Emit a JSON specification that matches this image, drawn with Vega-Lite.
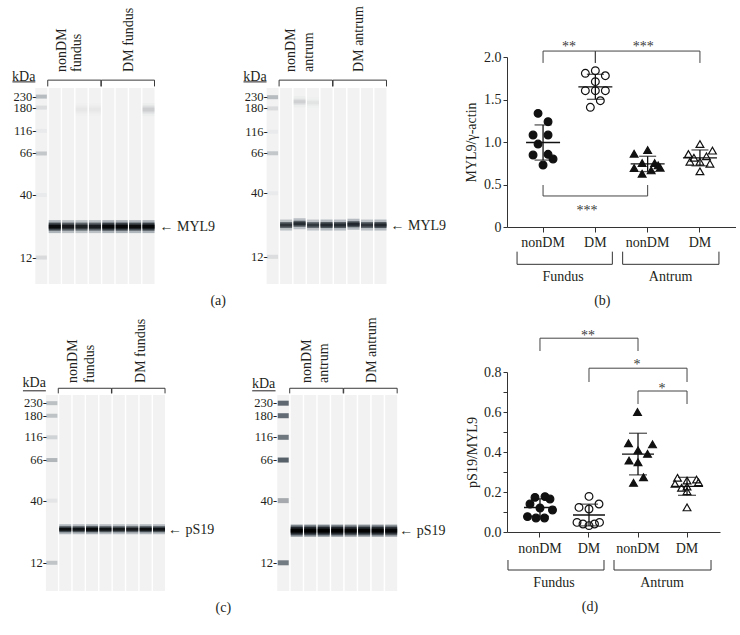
{
  "$schema": "https://vega.github.io/schema/vega-lite/v6.json",
  "padding": {"left": 0, "top": 6, "right": 0, "bottom": 0},
  "background": "white",
  "columns": 3,
  "bounds": "flush",
  "align": {"row": "each", "column": "none"},
  "spacing": {"row": 75, "column": 0},
  "config": {
    "view": {"stroke": null},
    "font": "Liberation Serif",
    "text": {"font": "Liberation Serif", "fontSize": 14, "fill": "#231f20"},
    "rule": {"color": "#333333", "strokeWidth": 1},
    "axis": {"labelFont": "Liberation Serif", "titleFont": "Liberation Serif", "labelFontSize": 14, "titleFontSize": 14, "titleFontWeight": "normal", "labelColor": "#231f20", "titleColor": "#231f20", "domainColor": "#333333", "tickColor": "#333333", "grid": false}
  },
  "datasets": {
    "lanes": [{"lane": 0}, {"lane": 1}, {"lane": 2}, {"lane": 3}, {"lane": 4}, {"lane": 5}, {"lane": 6}, {"lane": 7}, {"lane": 8}],
    "ladder": [
      {"blot": "A1", "kda": 230, "rf": 0.044, "i": 0.38}, {"blot": "A1", "kda": 180, "rf": 0.100, "i": 0.15}, {"blot": "A1", "kda": 116, "rf": 0.219, "i": 0.05}, {"blot": "A1", "kda": 66, "rf": 0.334, "i": 0.30}, {"blot": "A1", "kda": 40, "rf": 0.546, "i": 0.05}, {"blot": "A1", "kda": 12, "rf": 0.865, "i": 0.17},
      {"blot": "A2", "kda": 230, "rf": 0.047, "i": 0.38}, {"blot": "A2", "kda": 180, "rf": 0.104, "i": 0.16}, {"blot": "A2", "kda": 116, "rf": 0.223, "i": 0.05}, {"blot": "A2", "kda": 66, "rf": 0.333, "i": 0.30}, {"blot": "A2", "kda": 40, "rf": 0.537, "i": 0.05}, {"blot": "A2", "kda": 12, "rf": 0.861, "i": 0.15},
      {"blot": "C1", "kda": 230, "rf": 0.042, "i": 0.35}, {"blot": "C1", "kda": 180, "rf": 0.106, "i": 0.33}, {"blot": "C1", "kda": 116, "rf": 0.216, "i": 0.22}, {"blot": "C1", "kda": 66, "rf": 0.332, "i": 0.42}, {"blot": "C1", "kda": 40, "rf": 0.539, "i": 0.09}, {"blot": "C1", "kda": 12, "rf": 0.856, "i": 0.32},
      {"blot": "C2", "kda": 230, "rf": 0.042, "i": 0.82}, {"blot": "C2", "kda": 180, "rf": 0.106, "i": 0.80}, {"blot": "C2", "kda": 116, "rf": 0.216, "i": 0.72}, {"blot": "C2", "kda": 66, "rf": 0.332, "i": 0.86}, {"blot": "C2", "kda": 40, "rf": 0.539, "i": 0.42}, {"blot": "C2", "kda": 12, "rf": 0.856, "i": 0.70}
    ],
    "bands": [
      {"blot": "A1", "lane": 1, "rf": 0.707, "i": 0.95}, {"blot": "A1", "lane": 2, "rf": 0.707, "i": 0.78}, {"blot": "A1", "lane": 3, "rf": 0.707, "i": 0.72}, {"blot": "A1", "lane": 4, "rf": 0.707, "i": 0.76},
      {"blot": "A1", "lane": 5, "rf": 0.707, "i": 1.0}, {"blot": "A1", "lane": 6, "rf": 0.707, "i": 1.0}, {"blot": "A1", "lane": 7, "rf": 0.707, "i": 0.9}, {"blot": "A1", "lane": 8, "rf": 0.707, "i": 1.0},
      {"blot": "A1", "lane": 8, "rf": 0.11, "i": 0.08}, {"blot": "A1", "lane": 3, "rf": 0.11, "i": 0.02}, {"blot": "A1", "lane": 4, "rf": 0.11, "i": 0.02},
      {"blot": "A2", "lane": 1, "rf": 0.699, "i": 0.72}, {"blot": "A2", "lane": 2, "rf": 0.693, "i": 0.8}, {"blot": "A2", "lane": 3, "rf": 0.699, "i": 0.68}, {"blot": "A2", "lane": 4, "rf": 0.699, "i": 0.85},
      {"blot": "A2", "lane": 5, "rf": 0.699, "i": 0.8}, {"blot": "A2", "lane": 6, "rf": 0.695, "i": 0.85}, {"blot": "A2", "lane": 7, "rf": 0.699, "i": 0.72}, {"blot": "A2", "lane": 8, "rf": 0.699, "i": 0.85},
      {"blot": "A2", "lane": 2, "rf": 0.07, "i": 0.08}, {"blot": "A2", "lane": 3, "rf": 0.075, "i": 0.03},
      {"blot": "C1", "lane": 1, "rf": 0.685, "i": 0.9}, {"blot": "C1", "lane": 2, "rf": 0.685, "i": 0.85}, {"blot": "C1", "lane": 3, "rf": 0.685, "i": 1.0}, {"blot": "C1", "lane": 4, "rf": 0.685, "i": 0.85},
      {"blot": "C1", "lane": 5, "rf": 0.685, "i": 0.8}, {"blot": "C1", "lane": 6, "rf": 0.685, "i": 0.78}, {"blot": "C1", "lane": 7, "rf": 0.685, "i": 0.9}, {"blot": "C1", "lane": 8, "rf": 0.685, "i": 0.85},
      {"blot": "C2", "lane": 1, "rf": 0.692, "i": 1.0}, {"blot": "C2", "lane": 2, "rf": 0.692, "i": 1.0}, {"blot": "C2", "lane": 3, "rf": 0.692, "i": 1.0}, {"blot": "C2", "lane": 4, "rf": 0.692, "i": 1.0},
      {"blot": "C2", "lane": 5, "rf": 0.692, "i": 0.9}, {"blot": "C2", "lane": 6, "rf": 0.692, "i": 0.92}, {"blot": "C2", "lane": 7, "rf": 0.692, "i": 0.95}, {"blot": "C2", "lane": 8, "rf": 0.692, "i": 0.88}
    ],
    "groups": [
      {"blot": "A1", "grp": "nonDM", "first": 1, "last": 4, "lines": ["nonDM", "fundus"]}, {"blot": "A1", "grp": "DM", "first": 5, "last": 8, "lines": ["DM fundus"]},
      {"blot": "A2", "grp": "nonDM", "first": 1, "last": 4, "lines": ["nonDM", "antrum"]}, {"blot": "A2", "grp": "DM", "first": 5, "last": 8, "lines": ["DM antrum"]},
      {"blot": "C1", "grp": "nonDM", "first": 1, "last": 4, "lines": ["nonDM", "fundus"]}, {"blot": "C1", "grp": "DM", "first": 5, "last": 8, "lines": ["DM fundus"]},
      {"blot": "C2", "grp": "nonDM", "first": 1, "last": 4, "lines": ["nonDM", "antrum"]}, {"blot": "C2", "grp": "DM", "first": 5, "last": 8, "lines": ["DM antrum"]}
    ],
    "targets": [
      {"blot": "A1", "protein": "MYL9", "rf": 0.708}, {"blot": "A2", "protein": "MYL9", "rf": 0.705},
      {"blot": "C1", "protein": "pS19", "rf": 0.69}, {"blot": "C2", "protein": "pS19", "rf": 0.692}
    ],
    "myl9": [
      {"g": "F-nonDM", "v": 1.337, "jit": -1}, {"g": "F-nonDM", "v": 1.239, "jit": 1}, {"g": "F-nonDM", "v": 1.082, "jit": -2}, {"g": "F-nonDM", "v": 1.082, "jit": 1}, {"g": "F-nonDM", "v": 0.976, "jit": -1}, {"g": "F-nonDM", "v": 0.847, "jit": -2}, {"g": "F-nonDM", "v": 0.855, "jit": 1}, {"g": "F-nonDM", "v": 0.80, "jit": 2}, {"g": "F-nonDM", "v": 0.729, "jit": 0},
      {"g": "F-DM", "v": 1.808, "jit": -2}, {"g": "F-DM", "v": 1.839, "jit": 0}, {"g": "F-DM", "v": 1.78, "jit": 2}, {"g": "F-DM", "v": 1.71, "jit": 0}, {"g": "F-DM", "v": 1.604, "jit": -2}, {"g": "F-DM", "v": 1.604, "jit": 0}, {"g": "F-DM", "v": 1.604, "jit": 2}, {"g": "F-DM", "v": 1.486, "jit": 1}, {"g": "F-DM", "v": 1.408, "jit": -1},
      {"g": "A-nonDM", "v": 0.862, "jit": -2.7}, {"g": "A-nonDM", "v": 0.905, "jit": 0}, {"g": "A-nonDM", "v": 0.752, "jit": -1.1}, {"g": "A-nonDM", "v": 0.752, "jit": 1.4}, {"g": "A-nonDM", "v": 0.725, "jit": 2.1}, {"g": "A-nonDM", "v": 0.693, "jit": -2.7}, {"g": "A-nonDM", "v": 0.666, "jit": 0.7}, {"g": "A-nonDM", "v": 0.697, "jit": 2.5}, {"g": "A-nonDM", "v": 0.627, "jit": -1.1},
      {"g": "A-DM", "v": 0.976, "jit": 0}, {"g": "A-DM", "v": 0.859, "jit": -2.3}, {"g": "A-DM", "v": 0.898, "jit": 2.5}, {"g": "A-DM", "v": 0.815, "jit": -1.2}, {"g": "A-DM", "v": 0.832, "jit": 1.3}, {"g": "A-DM", "v": 0.768, "jit": -2}, {"g": "A-DM", "v": 0.768, "jit": 0}, {"g": "A-DM", "v": 0.745, "jit": 2}, {"g": "A-DM", "v": 0.655, "jit": 0}
    ],
    "ps19": [
      {"g": "F-nonDM", "v": 0.173, "jit": -1}, {"g": "F-nonDM", "v": 0.177, "jit": 1}, {"g": "F-nonDM", "v": 0.165, "jit": 2}, {"g": "F-nonDM", "v": 0.140, "jit": -2}, {"g": "F-nonDM", "v": 0.120, "jit": 0}, {"g": "F-nonDM", "v": 0.110, "jit": 2.5}, {"g": "F-nonDM", "v": 0.077, "jit": -2.5}, {"g": "F-nonDM", "v": 0.070, "jit": -0.8}, {"g": "F-nonDM", "v": 0.070, "jit": 0.9},
      {"g": "F-DM", "v": 0.178, "jit": 0}, {"g": "F-DM", "v": 0.123, "jit": -2}, {"g": "F-DM", "v": 0.115, "jit": 0}, {"g": "F-DM", "v": 0.140, "jit": 2}, {"g": "F-DM", "v": 0.048, "jit": -2.4}, {"g": "F-DM", "v": 0.040, "jit": -1.2}, {"g": "F-DM", "v": 0.032, "jit": 0}, {"g": "F-DM", "v": 0.040, "jit": 1.1}, {"g": "F-DM", "v": 0.048, "jit": 2.1},
      {"g": "A-nonDM", "v": 0.600, "jit": -0.1}, {"g": "A-nonDM", "v": 0.444, "jit": -1.9}, {"g": "A-nonDM", "v": 0.438, "jit": 2.9}, {"g": "A-nonDM", "v": 0.408, "jit": 0}, {"g": "A-nonDM", "v": 0.391, "jit": 1.9}, {"g": "A-nonDM", "v": 0.357, "jit": -1.8}, {"g": "A-nonDM", "v": 0.349, "jit": 0}, {"g": "A-nonDM", "v": 0.274, "jit": 1.1}, {"g": "A-nonDM", "v": 0.246, "jit": -0.9},
      {"g": "A-DM", "v": 0.271, "jit": -1.9}, {"g": "A-DM", "v": 0.262, "jit": 1.9}, {"g": "A-DM", "v": 0.257, "jit": 0}, {"g": "A-DM", "v": 0.241, "jit": -2.4}, {"g": "A-DM", "v": 0.221, "jit": -1.1}, {"g": "A-DM", "v": 0.249, "jit": 2.3}, {"g": "A-DM", "v": 0.227, "jit": 0}, {"g": "A-DM", "v": 0.204, "jit": 0}, {"g": "A-DM", "v": 0.123, "jit": 0}
    ],
    "sig": [
      {"panel": "b", "a": "F-nonDM", "b": "F-DM", "lvl": 2.07, "tip": 1.93},
      {"panel": "b", "a": "F-DM", "b": "A-DM", "lvl": 2.07, "tip": 1.93},
      {"panel": "b", "a": "F-nonDM", "b": "A-nonDM", "lvl": 0.365, "tip": 0.494},
      {"panel": "d", "a": "F-nonDM", "b": "A-nonDM", "lvl": 0.969, "tip": 0.905},
      {"panel": "d", "a": "F-DM", "b": "A-DM", "lvl": 0.819, "tip": 0.75},
      {"panel": "d", "a": "A-nonDM", "b": "A-DM", "lvl": 0.705, "tip": 0.64}
    ]
  },
  "concat": [
    {
      "width": 231, "height": 240,
      "layer": [
        {"data": {"name": "lanes"}, "mark": {"type": "bar", "orient": "vertical", "width": 12, "color": "#f2f2f2"},
         "encoding": {"x": {"field": "lane", "type": "quantitative", "scale": {"domain": [-2.714, 13.786], "nice": false, "zero": false}, "axis": null},
                      "y": {"datum": 0, "type": "quantitative", "scale": {"domain": [-0.158, 1.066], "nice": false, "zero": false, "reverse": true}, "axis": null},
                      "y2": {"datum": 1}}},
        {"data": {"name": "ladder"}, "transform": [{"filter": "datum.blot === 'A1'"}], "mark": {"type": "tick", "orient": "horizontal", "size": 11, "thickness": 4, "color": "#56636e"},
         "encoding": {"x": {"datum": 0, "type": "quantitative"}, "y": {"field": "rf", "type": "quantitative"}, "opacity": {"field": "i", "type": "quantitative", "scale": {"domain": [0, 1], "range": [0, 1]}, "legend": null}}},
        {"data": {"name": "bands"}, "transform": [{"filter": "datum.blot === 'A1'"}], "mark": {"type": "tick", "orient": "horizontal", "size": 12, "thickness": 13, "color": "#a9b0b6"},
         "encoding": {"x": {"field": "lane", "type": "quantitative"}, "y": {"field": "rf", "type": "quantitative"}, "opacity": {"field": "i", "type": "quantitative", "legend": null}}},
        {"data": {"name": "bands"}, "transform": [{"filter": "datum.blot === 'A1'"}], "mark": {"type": "tick", "orient": "horizontal", "size": 12, "thickness": 8, "color": "#3a4248"},
         "encoding": {"x": {"field": "lane", "type": "quantitative"}, "y": {"field": "rf", "type": "quantitative"}, "opacity": {"field": "i", "type": "quantitative", "legend": null}}},
        {"data": {"name": "bands"}, "transform": [{"filter": "datum.blot === 'A1'"}], "mark": {"type": "tick", "orient": "horizontal", "size": 12, "thickness": 4, "color": "#050708"},
         "encoding": {"x": {"field": "lane", "type": "quantitative"}, "y": {"field": "rf", "type": "quantitative"}, "opacity": {"field": "i", "type": "quantitative", "legend": null}}},
        {"data": {"name": "ladder"}, "transform": [{"filter": "datum.blot === 'A1'"}, {"calculate": "datum.kda + '-'", "as": "lab"}], "mark": {"type": "text", "align": "right", "baseline": "middle", "dx": -5, "fontSize": 12.5},
         "encoding": {"x": {"datum": 0, "type": "quantitative"}, "y": {"field": "rf", "type": "quantitative"}, "text": {"field": "lab"}}},
        {"data": {"values": [{}]}, "mark": {"type": "text", "text": "kDa", "align": "right", "baseline": "middle", "dx": -6},
         "encoding": {"x": {"datum": 0, "type": "quantitative"}, "y": {"datum": -0.056, "type": "quantitative"}}},
        {"data": {"values": [{}]}, "mark": {"type": "rule", "color": "#231f20"},
         "encoding": {"x": {"datum": -2.16, "type": "quantitative"}, "x2": {"datum": -0.45}, "y": {"datum": -0.031, "type": "quantitative"}}},
        {"data": {"name": "groups"}, "transform": [{"filter": "datum.blot === 'A1'"}], "mark": {"type": "rule", "color": "#3a3a3a", "xOffset": -7, "x2Offset": 6},
         "encoding": {"x": {"field": "first", "type": "quantitative"}, "x2": {"field": "last"}, "y": {"datum": -0.04, "type": "quantitative"}}},
        {"data": {"name": "groups"}, "transform": [{"filter": "datum.blot === 'A1'"}], "mark": {"type": "rule", "color": "#3a3a3a", "xOffset": -7},
         "encoding": {"x": {"field": "first", "type": "quantitative"}, "y": {"datum": -0.04, "type": "quantitative"}, "y2": {"datum": -0.008}}},
        {"data": {"name": "groups"}, "transform": [{"filter": "datum.blot === 'A1'"}], "mark": {"type": "rule", "color": "#3a3a3a", "xOffset": 6},
         "encoding": {"x": {"field": "last", "type": "quantitative"}, "y": {"datum": -0.04, "type": "quantitative"}, "y2": {"datum": -0.008}}},
        {"data": {"name": "groups"}, "transform": [{"filter": "datum.blot === 'A1' && datum.grp === 'nonDM'"}, {"calculate": "(datum.first + datum.last) / 2", "as": "mid"}], "mark": {"type": "text", "angle": 270, "align": "left", "baseline": "middle", "lineHeight": 15, "dy": -13},
         "encoding": {"x": {"field": "mid", "type": "quantitative"}, "y": {"datum": -0.082, "type": "quantitative"}, "text": {"field": "lines"}}},
        {"data": {"name": "groups"}, "transform": [{"filter": "datum.blot === 'A1' && datum.grp === 'DM'"}, {"calculate": "(datum.first + datum.last) / 2", "as": "mid"}], "mark": {"type": "text", "angle": 270, "align": "left", "baseline": "middle", "dy": 1},
         "encoding": {"x": {"field": "mid", "type": "quantitative"}, "y": {"datum": -0.082, "type": "quantitative"}, "text": {"field": "lines"}}},
        {"data": {"name": "targets"}, "transform": [{"filter": "datum.blot === 'A1'"}, {"calculate": "'\u2190 ' + datum.protein", "as": "lab"}], "mark": {"type": "text", "align": "left", "baseline": "middle", "dx": 11},
         "encoding": {"x": {"datum": 8, "type": "quantitative"}, "y": {"field": "rf", "type": "quantitative"}, "text": {"field": "lab"}}},
        {"data": {"values": [{}]}, "mark": {"type": "text", "text": "(a)", "baseline": "middle"},
         "encoding": {"x": {"datum": 13.2, "type": "quantitative"}, "y": {"datum": 1.087, "type": "quantitative"}}}
      ]
    },
    {
      "width": 272, "height": 240,
      "layer": [
        {"data": {"name": "lanes"}, "mark": {"type": "bar", "orient": "vertical", "width": 12, "color": "#f2f2f2"},
         "encoding": {"x": {"field": "lane", "type": "quantitative", "scale": {"domain": [-2.714, 16.714], "nice": false, "zero": false}, "axis": null},
                      "y": {"datum": 0, "type": "quantitative", "scale": {"domain": [-0.158, 1.066], "nice": false, "zero": false, "reverse": true}, "axis": null},
                      "y2": {"datum": 1}}},
        {"data": {"name": "ladder"}, "transform": [{"filter": "datum.blot === 'A2'"}], "mark": {"type": "tick", "orient": "horizontal", "size": 11, "thickness": 4, "color": "#56636e"},
         "encoding": {"x": {"datum": 0, "type": "quantitative"}, "y": {"field": "rf", "type": "quantitative"}, "opacity": {"field": "i", "type": "quantitative", "scale": {"domain": [0, 1], "range": [0, 1]}, "legend": null}}},
        {"data": {"name": "bands"}, "transform": [{"filter": "datum.blot === 'A2'"}], "mark": {"type": "tick", "orient": "horizontal", "size": 12, "thickness": 11, "color": "#a9b0b6"},
         "encoding": {"x": {"field": "lane", "type": "quantitative"}, "y": {"field": "rf", "type": "quantitative"}, "opacity": {"field": "i", "type": "quantitative", "legend": null}}},
        {"data": {"name": "bands"}, "transform": [{"filter": "datum.blot === 'A2'"}], "mark": {"type": "tick", "orient": "horizontal", "size": 12, "thickness": 6, "color": "#3a4248"},
         "encoding": {"x": {"field": "lane", "type": "quantitative"}, "y": {"field": "rf", "type": "quantitative"}, "opacity": {"field": "i", "type": "quantitative", "legend": null}}},
        {"data": {"name": "bands"}, "transform": [{"filter": "datum.blot === 'A2'"}], "mark": {"type": "tick", "orient": "horizontal", "size": 12, "thickness": 3, "color": "#1a2026"},
         "encoding": {"x": {"field": "lane", "type": "quantitative"}, "y": {"field": "rf", "type": "quantitative"}, "opacity": {"field": "i", "type": "quantitative", "legend": null}}},
        {"data": {"name": "ladder"}, "transform": [{"filter": "datum.blot === 'A2'"}, {"calculate": "datum.kda + '-'", "as": "lab"}], "mark": {"type": "text", "align": "right", "baseline": "middle", "dx": -5, "fontSize": 12.5},
         "encoding": {"x": {"datum": 0, "type": "quantitative"}, "y": {"field": "rf", "type": "quantitative"}, "text": {"field": "lab"}}},
        {"data": {"values": [{}]}, "mark": {"type": "text", "text": "kDa", "align": "right", "baseline": "middle", "dx": -6},
         "encoding": {"x": {"datum": 0, "type": "quantitative"}, "y": {"datum": -0.056, "type": "quantitative"}}},
        {"data": {"values": [{}]}, "mark": {"type": "rule", "color": "#231f20"},
         "encoding": {"x": {"datum": -2.16, "type": "quantitative"}, "x2": {"datum": -0.45}, "y": {"datum": -0.031, "type": "quantitative"}}},
        {"data": {"name": "groups"}, "transform": [{"filter": "datum.blot === 'A2'"}], "mark": {"type": "rule", "color": "#3a3a3a", "xOffset": -7, "x2Offset": 6},
         "encoding": {"x": {"field": "first", "type": "quantitative"}, "x2": {"field": "last"}, "y": {"datum": -0.04, "type": "quantitative"}}},
        {"data": {"name": "groups"}, "transform": [{"filter": "datum.blot === 'A2'"}], "mark": {"type": "rule", "color": "#3a3a3a", "xOffset": -7},
         "encoding": {"x": {"field": "first", "type": "quantitative"}, "y": {"datum": -0.04, "type": "quantitative"}, "y2": {"datum": -0.008}}},
        {"data": {"name": "groups"}, "transform": [{"filter": "datum.blot === 'A2'"}], "mark": {"type": "rule", "color": "#3a3a3a", "xOffset": 6},
         "encoding": {"x": {"field": "last", "type": "quantitative"}, "y": {"datum": -0.04, "type": "quantitative"}, "y2": {"datum": -0.008}}},
        {"data": {"name": "groups"}, "transform": [{"filter": "datum.blot === 'A2' && datum.grp === 'nonDM'"}, {"calculate": "(datum.first + datum.last) / 2", "as": "mid"}], "mark": {"type": "text", "angle": 270, "align": "left", "baseline": "middle", "lineHeight": 18, "dy": -15},
         "encoding": {"x": {"field": "mid", "type": "quantitative"}, "y": {"datum": -0.082, "type": "quantitative"}, "text": {"field": "lines"}}},
        {"data": {"name": "groups"}, "transform": [{"filter": "datum.blot === 'A2' && datum.grp === 'DM'"}, {"calculate": "(datum.first + datum.last) / 2", "as": "mid"}], "mark": {"type": "text", "angle": 270, "align": "left", "baseline": "middle", "dy": -1},
         "encoding": {"x": {"field": "mid", "type": "quantitative"}, "y": {"datum": -0.082, "type": "quantitative"}, "text": {"field": "lines"}}},
        {"data": {"name": "targets"}, "transform": [{"filter": "datum.blot === 'A2'"}, {"calculate": "'\u2190 ' + datum.protein", "as": "lab"}], "mark": {"type": "text", "align": "left", "baseline": "middle", "dx": 10},
         "encoding": {"x": {"datum": 8, "type": "quantitative"}, "y": {"field": "rf", "type": "quantitative"}, "text": {"field": "lab"}}}
      ]
    },
    {
      "width": 229, "height": 170,
      "layer": [
        {"data": {"name": "myl9"}, "mark": {"type": "point", "size": 60, "strokeWidth": 1.2, "stroke": "#111111", "opacity": 1},
         "encoding": {
           "x": {"field": "g", "type": "nominal", "scale": {"type": "band", "domain": ["F-nonDM", "F-DM", "A-nonDM", "A-DM"], "paddingInner": 0.426, "paddingOuter": 0.4025},
                 "axis": {"title": null, "labelExpr": "split(datum.label, '-')[1]", "labelAngle": 0, "tickSize": 5, "labelPadding": 3}},
           "xOffset": {"field": "jit", "type": "quantitative", "scale": {"domain": [-3, 3], "range": [0, 30]}},
           "y": {"field": "v", "type": "quantitative", "scale": {"domain": [0, 2], "nice": false, "zero": false},
                 "axis": {"title": "MYL9/\u03b3-actin", "values": [0, 0.5, 1, 1.5, 2], "labelExpr": "datum.value === 0 ? '0' : format(datum.value, '.1f')", "tickSize": 4, "titlePadding": 5}},
           "shape": {"field": "g", "type": "nominal", "scale": {"domain": ["F-nonDM", "F-DM", "A-nonDM", "A-DM"], "range": ["circle", "circle", "triangle-up", "triangle-up"]}, "legend": null},
           "fill": {"field": "g", "type": "nominal", "scale": {"domain": ["F-nonDM", "F-DM", "A-nonDM", "A-DM"], "range": ["#111111", "transparent", "#111111", "transparent"]}, "legend": null}
         }},
        {"data": {"name": "myl9"}, "mark": {"type": "errorbar", "extent": "stdev", "ticks": {"size": 17}, "thickness": 1.3, "color": "#111111"},
         "encoding": {"x": {"field": "g", "type": "nominal"}, "y": {"field": "v", "type": "quantitative", "title": "MYL9/\u03b3-actin"}}},
        {"data": {"name": "myl9"}, "mark": {"type": "tick", "size": 34, "thickness": 1.3, "color": "#111111"},
         "encoding": {"x": {"field": "g", "type": "nominal"}, "y": {"aggregate": "mean", "field": "v", "type": "quantitative", "title": "MYL9/\u03b3-actin"}}},
        {"data": {"name": "sig"}, "transform": [{"filter": "datum.panel === 'b'"}], "mark": {"type": "rule", "color": "#444444"},
         "encoding": {"x": {"field": "a", "type": "nominal"}, "x2": {"field": "b"}, "y": {"field": "lvl", "type": "quantitative"}}},
        {"data": {"name": "sig"}, "transform": [{"filter": "datum.panel === 'b'"}, {"fold": ["a", "b"], "as": ["end", "grp"]}], "mark": {"type": "rule", "color": "#444444"},
         "encoding": {"x": {"field": "grp", "type": "nominal"}, "y": {"field": "lvl", "type": "quantitative"}, "y2": {"field": "tip"}}},
        {"data": {"values": [{"s": "**", "k": "b1"}]}, "mark": {"type": "text", "dx": 26, "baseline": "alphabetic"},
         "encoding": {"x": {"datum": "F-nonDM", "type": "nominal"}, "y": {"datum": 2.07, "type": "quantitative"}, "text": {"field": "s"}, "color": {"value": "#3a3a3a"}}},
        {"data": {"values": [{"s": "***", "k": "b2"}]}, "mark": {"type": "text", "dx": 48, "baseline": "alphabetic"},
         "encoding": {"x": {"datum": "F-DM", "type": "nominal"}, "y": {"datum": 2.07, "type": "quantitative"}, "text": {"field": "s"}, "color": {"value": "#3a3a3a"}}},
        {"data": {"values": [{"s": "***", "k": "b3"}]}, "mark": {"type": "text", "dx": 44, "baseline": "alphabetic"},
         "encoding": {"x": {"datum": "F-nonDM", "type": "nominal"}, "y": {"datum": 0.147, "type": "quantitative"}, "text": {"field": "s"}, "color": {"value": "#3a3a3a"}}},
        {"data": {"values": [{}]}, "mark": {"type": "rule", "color": "#333333", "xOffset": -26, "x2Offset": 17},
         "encoding": {"x": {"datum": "F-nonDM", "type": "nominal"}, "x2": {"datum": "F-DM"}, "y": {"datum": -0.439, "type": "quantitative"}}},
        {"data": {"values": [{}]}, "mark": {"type": "rule", "color": "#333333", "xOffset": -26},
         "encoding": {"x": {"datum": "F-nonDM", "type": "nominal"}, "y": {"datum": -0.439, "type": "quantitative"}, "y2": {"datum": -0.29}}},
        {"data": {"values": [{}]}, "mark": {"type": "rule", "color": "#333333", "xOffset": 17},
         "encoding": {"x": {"datum": "F-DM", "type": "nominal"}, "y": {"datum": -0.439, "type": "quantitative"}, "y2": {"datum": -0.29}}},
        {"data": {"values": [{}]}, "mark": {"type": "rule", "color": "#333333", "xOffset": -25, "x2Offset": 19},
         "encoding": {"x": {"datum": "A-nonDM", "type": "nominal"}, "x2": {"datum": "A-DM"}, "y": {"datum": -0.439, "type": "quantitative"}}},
        {"data": {"values": [{}]}, "mark": {"type": "rule", "color": "#333333", "xOffset": -25},
         "encoding": {"x": {"datum": "A-nonDM", "type": "nominal"}, "y": {"datum": -0.439, "type": "quantitative"}, "y2": {"datum": -0.29}}},
        {"data": {"values": [{}]}, "mark": {"type": "rule", "color": "#333333", "xOffset": 19},
         "encoding": {"x": {"datum": "A-DM", "type": "nominal"}, "y": {"datum": -0.439, "type": "quantitative"}, "y2": {"datum": -0.29}}},
        {"data": {"values": [{}]}, "mark": {"type": "text", "text": "Fundus", "dx": 20, "baseline": "middle"},
         "encoding": {"x": {"datum": "F-nonDM", "type": "nominal"}, "y": {"datum": -0.588, "type": "quantitative"}}},
        {"data": {"values": [{}]}, "mark": {"type": "text", "text": "Antrum", "dx": 23, "baseline": "middle"},
         "encoding": {"x": {"datum": "A-nonDM", "type": "nominal"}, "y": {"datum": -0.588, "type": "quantitative"}}},
        {"data": {"values": [{}]}, "mark": {"type": "text", "text": "(b)", "dx": 7, "baseline": "middle"},
         "encoding": {"x": {"datum": "F-DM", "type": "nominal"}, "y": {"datum": -0.87, "type": "quantitative"}}}
      ]
    },
    {
      "width": 231, "height": 240,
      "layer": [
        {"data": {"name": "lanes"}, "mark": {"type": "bar", "orient": "vertical", "width": 12, "color": "#f2f2f2"},
         "encoding": {"x": {"field": "lane", "type": "quantitative", "scale": {"domain": [-3.5, 13.0], "nice": false, "zero": false}, "axis": null},
                      "y": {"datum": 0, "type": "quantitative", "scale": {"domain": [-0.117, 1.107], "nice": false, "zero": false, "reverse": true}, "axis": null},
                      "y2": {"datum": 1}}},
        {"data": {"name": "ladder"}, "transform": [{"filter": "datum.blot === 'C1'"}], "mark": {"type": "tick", "orient": "horizontal", "size": 11, "thickness": 4, "color": "#56636e"},
         "encoding": {"x": {"datum": 0, "type": "quantitative"}, "y": {"field": "rf", "type": "quantitative"}, "opacity": {"field": "i", "type": "quantitative", "scale": {"domain": [0, 1], "range": [0, 1]}, "legend": null}}},
        {"data": {"name": "bands"}, "transform": [{"filter": "datum.blot === 'C1'"}], "mark": {"type": "tick", "orient": "horizontal", "size": 12, "thickness": 10, "color": "#a9b0b6"},
         "encoding": {"x": {"field": "lane", "type": "quantitative"}, "y": {"field": "rf", "type": "quantitative"}, "opacity": {"field": "i", "type": "quantitative", "legend": null}}},
        {"data": {"name": "bands"}, "transform": [{"filter": "datum.blot === 'C1'"}], "mark": {"type": "tick", "orient": "horizontal", "size": 12, "thickness": 6, "color": "#3a4248"},
         "encoding": {"x": {"field": "lane", "type": "quantitative"}, "y": {"field": "rf", "type": "quantitative"}, "opacity": {"field": "i", "type": "quantitative", "legend": null}}},
        {"data": {"name": "bands"}, "transform": [{"filter": "datum.blot === 'C1'"}], "mark": {"type": "tick", "orient": "horizontal", "size": 12, "thickness": 3, "color": "#050708"},
         "encoding": {"x": {"field": "lane", "type": "quantitative"}, "y": {"field": "rf", "type": "quantitative"}, "opacity": {"field": "i", "type": "quantitative", "legend": null}}},
        {"data": {"name": "ladder"}, "transform": [{"filter": "datum.blot === 'C1'"}, {"calculate": "datum.kda + '-'", "as": "lab"}], "mark": {"type": "text", "align": "right", "baseline": "middle", "dx": -5, "fontSize": 12.5},
         "encoding": {"x": {"datum": 0, "type": "quantitative"}, "y": {"field": "rf", "type": "quantitative"}, "text": {"field": "lab"}}},
        {"data": {"values": [{}]}, "mark": {"type": "text", "text": "kDa", "align": "right", "baseline": "middle", "dx": -6},
         "encoding": {"x": {"datum": 0, "type": "quantitative"}, "y": {"datum": -0.061, "type": "quantitative"}}},
        {"data": {"values": [{}]}, "mark": {"type": "rule", "color": "#231f20"},
         "encoding": {"x": {"datum": -2.16, "type": "quantitative"}, "x2": {"datum": -0.45}, "y": {"datum": -0.021, "type": "quantitative"}}},
        {"data": {"name": "groups"}, "transform": [{"filter": "datum.blot === 'C1'"}], "mark": {"type": "rule", "color": "#3a3a3a", "xOffset": -7, "x2Offset": 6},
         "encoding": {"x": {"field": "first", "type": "quantitative"}, "x2": {"field": "last"}, "y": {"datum": -0.034, "type": "quantitative"}}},
        {"data": {"name": "groups"}, "transform": [{"filter": "datum.blot === 'C1'"}], "mark": {"type": "rule", "color": "#3a3a3a", "xOffset": -7},
         "encoding": {"x": {"field": "first", "type": "quantitative"}, "y": {"datum": -0.034, "type": "quantitative"}, "y2": {"datum": -0.008}}},
        {"data": {"name": "groups"}, "transform": [{"filter": "datum.blot === 'C1'"}], "mark": {"type": "rule", "color": "#3a3a3a", "xOffset": 6},
         "encoding": {"x": {"field": "last", "type": "quantitative"}, "y": {"datum": -0.034, "type": "quantitative"}, "y2": {"datum": -0.008}}},
        {"data": {"name": "groups"}, "transform": [{"filter": "datum.blot === 'C1' && datum.grp === 'nonDM'"}, {"calculate": "(datum.first + datum.last) / 2", "as": "mid"}], "mark": {"type": "text", "angle": 270, "align": "left", "baseline": "middle", "lineHeight": 17, "dy": -12},
         "encoding": {"x": {"field": "mid", "type": "quantitative"}, "y": {"datum": -0.061, "type": "quantitative"}, "text": {"field": "lines"}}},
        {"data": {"name": "groups"}, "transform": [{"filter": "datum.blot === 'C1' && datum.grp === 'DM'"}, {"calculate": "(datum.first + datum.last) / 2", "as": "mid"}], "mark": {"type": "text", "angle": 270, "align": "left", "baseline": "middle", "dy": 2},
         "encoding": {"x": {"field": "mid", "type": "quantitative"}, "y": {"datum": -0.061, "type": "quantitative"}, "text": {"field": "lines"}}},
        {"data": {"name": "targets"}, "transform": [{"filter": "datum.blot === 'C1'"}, {"calculate": "'\u2190 ' + datum.protein", "as": "lab"}], "mark": {"type": "text", "align": "left", "baseline": "middle", "dx": 9},
         "encoding": {"x": {"datum": 8, "type": "quantitative"}, "y": {"field": "rf", "type": "quantitative"}, "text": {"field": "lab"}}},
        {"data": {"values": [{}]}, "mark": {"type": "text", "text": "(c)", "baseline": "middle"},
         "encoding": {"x": {"datum": 12.8, "type": "quantitative"}, "y": {"datum": 1.087, "type": "quantitative"}}}
      ]
    },
    {
      "width": 276, "height": 240,
      "layer": [
        {"data": {"name": "lanes"}, "mark": {"type": "bar", "orient": "vertical", "width": 12, "color": "#f2f2f2"},
         "encoding": {"x": {"field": "lane", "type": "quantitative", "scale": {"domain": [-3.5, 16.214], "nice": false, "zero": false}, "axis": null},
                      "y": {"datum": 0, "type": "quantitative", "scale": {"domain": [-0.117, 1.107], "nice": false, "zero": false, "reverse": true}, "axis": null},
                      "y2": {"datum": 1}}},
        {"data": {"name": "ladder"}, "transform": [{"filter": "datum.blot === 'C2'"}], "mark": {"type": "tick", "orient": "horizontal", "size": 11, "thickness": 5, "color": "#3d4852"},
         "encoding": {"x": {"datum": 0, "type": "quantitative"}, "y": {"field": "rf", "type": "quantitative"}, "opacity": {"field": "i", "type": "quantitative", "scale": {"domain": [0, 1], "range": [0, 1]}, "legend": null}}},
        {"data": {"name": "bands"}, "transform": [{"filter": "datum.blot === 'C2'"}], "mark": {"type": "tick", "orient": "horizontal", "size": 12, "thickness": 12, "color": "#7d858c"},
         "encoding": {"x": {"field": "lane", "type": "quantitative"}, "y": {"field": "rf", "type": "quantitative"}, "opacity": {"field": "i", "type": "quantitative", "legend": null}}},
        {"data": {"name": "bands"}, "transform": [{"filter": "datum.blot === 'C2'"}], "mark": {"type": "tick", "orient": "horizontal", "size": 12, "thickness": 8, "color": "#20262b"},
         "encoding": {"x": {"field": "lane", "type": "quantitative"}, "y": {"field": "rf", "type": "quantitative"}, "opacity": {"field": "i", "type": "quantitative", "legend": null}}},
        {"data": {"name": "bands"}, "transform": [{"filter": "datum.blot === 'C2'"}], "mark": {"type": "tick", "orient": "horizontal", "size": 12, "thickness": 4, "color": "#000000"},
         "encoding": {"x": {"field": "lane", "type": "quantitative"}, "y": {"field": "rf", "type": "quantitative"}, "opacity": {"field": "i", "type": "quantitative", "legend": null}}},
        {"data": {"name": "ladder"}, "transform": [{"filter": "datum.blot === 'C2'"}, {"calculate": "datum.kda + '-'", "as": "lab"}], "mark": {"type": "text", "align": "right", "baseline": "middle", "dx": -6, "fontSize": 12.5},
         "encoding": {"x": {"datum": 0, "type": "quantitative"}, "y": {"field": "rf", "type": "quantitative"}, "text": {"field": "lab"}}},
        {"data": {"values": [{}]}, "mark": {"type": "text", "text": "kDa", "align": "right", "baseline": "middle", "dx": -8},
         "encoding": {"x": {"datum": 0, "type": "quantitative"}, "y": {"datum": -0.056, "type": "quantitative"}}},
        {"data": {"values": [{}]}, "mark": {"type": "rule", "color": "#231f20"},
         "encoding": {"x": {"datum": -2.3, "type": "quantitative"}, "x2": {"datum": -0.57}, "y": {"datum": -0.021, "type": "quantitative"}}},
        {"data": {"name": "groups"}, "transform": [{"filter": "datum.blot === 'C2'"}], "mark": {"type": "rule", "color": "#3a3a3a", "xOffset": -7, "x2Offset": 6},
         "encoding": {"x": {"field": "first", "type": "quantitative"}, "x2": {"field": "last"}, "y": {"datum": -0.034, "type": "quantitative"}}},
        {"data": {"name": "groups"}, "transform": [{"filter": "datum.blot === 'C2'"}], "mark": {"type": "rule", "color": "#3a3a3a", "xOffset": -7},
         "encoding": {"x": {"field": "first", "type": "quantitative"}, "y": {"datum": -0.034, "type": "quantitative"}, "y2": {"datum": -0.008}}},
        {"data": {"name": "groups"}, "transform": [{"filter": "datum.blot === 'C2'"}], "mark": {"type": "rule", "color": "#3a3a3a", "xOffset": 6},
         "encoding": {"x": {"field": "last", "type": "quantitative"}, "y": {"datum": -0.034, "type": "quantitative"}, "y2": {"datum": -0.008}}},
        {"data": {"name": "groups"}, "transform": [{"filter": "datum.blot === 'C2' && datum.grp === 'nonDM'"}, {"calculate": "(datum.first + datum.last) / 2", "as": "mid"}], "mark": {"type": "text", "angle": 270, "align": "left", "baseline": "middle", "lineHeight": 17, "dy": -10},
         "encoding": {"x": {"field": "mid", "type": "quantitative"}, "y": {"datum": -0.061, "type": "quantitative"}, "text": {"field": "lines"}}},
        {"data": {"name": "groups"}, "transform": [{"filter": "datum.blot === 'C2' && datum.grp === 'DM'"}, {"calculate": "(datum.first + datum.last) / 2", "as": "mid"}], "mark": {"type": "text", "angle": 270, "align": "left", "baseline": "middle", "dy": 1},
         "encoding": {"x": {"field": "mid", "type": "quantitative"}, "y": {"datum": -0.061, "type": "quantitative"}, "text": {"field": "lines"}}},
        {"data": {"name": "targets"}, "transform": [{"filter": "datum.blot === 'C2'"}, {"calculate": "'\u2190 ' + datum.protein", "as": "lab"}], "mark": {"type": "text", "align": "left", "baseline": "middle", "dx": 8},
         "encoding": {"x": {"datum": 8, "type": "quantitative"}, "y": {"field": "rf", "type": "quantitative"}, "text": {"field": "lab"}}}
      ]
    },
    {
      "width": 213, "height": 160,
      "resolve": {"axis": {"y": "independent"}},
      "layer": [
        {"data": {"name": "ps19"}, "mark": {"type": "point", "size": 60, "strokeWidth": 1.2, "stroke": "#111111", "opacity": 1},
         "encoding": {
           "x": {"field": "g", "type": "nominal", "scale": {"type": "band", "domain": ["F-nonDM", "F-DM", "A-nonDM", "A-DM"], "paddingInner": 0.388, "paddingOuter": 0.367},
                 "axis": {"title": null, "labelExpr": "split(datum.label, '-')[1]", "labelAngle": 0, "tickSize": 5, "labelPadding": 4}},
           "xOffset": {"field": "jit", "type": "quantitative", "scale": {"domain": [-3, 3], "range": [0, 30]}},
           "y": {"field": "v", "type": "quantitative", "scale": {"domain": [0, 0.8], "nice": false, "zero": false},
                 "axis": {"orient": "left", "title": "pS19/MYL9", "values": [0, 0.2, 0.4, 0.6, 0.8], "format": ".1f", "tickSize": 4, "titlePadding": 4, "labelOverlap": false}},
           "shape": {"field": "g", "type": "nominal", "scale": {"domain": ["F-nonDM", "F-DM", "A-nonDM", "A-DM"], "range": ["circle", "circle", "triangle-up", "triangle-up"]}, "legend": null},
           "fill": {"field": "g", "type": "nominal", "scale": {"domain": ["F-nonDM", "F-DM", "A-nonDM", "A-DM"], "range": ["#111111", "transparent", "#111111", "transparent"]}, "legend": null}
         }},
        {"data": {"name": "ps19"}, "mark": {"type": "errorbar", "extent": "stdev", "ticks": {"size": 18}, "thickness": 1.3, "color": "#111111"},
         "encoding": {"x": {"field": "g", "type": "nominal"}, "y": {"field": "v", "type": "quantitative", "title": "pS19/MYL9",
              "axis": {"orient": "left", "values": [0.1, 0.3, 0.5, 0.7], "labels": false, "domain": false, "title": null, "tickSize": 4, "grid": false}}}},
        {"data": {"name": "ps19"}, "mark": {"type": "tick", "size": 32, "thickness": 1.3, "color": "#111111"},
         "encoding": {"x": {"field": "g", "type": "nominal"}, "y": {"aggregate": "mean", "field": "v", "type": "quantitative", "axis": null}}},
        {"data": {"name": "sig"}, "transform": [{"filter": "datum.panel === 'd'"}], "mark": {"type": "rule", "color": "#444444"},
         "encoding": {"x": {"field": "a", "type": "nominal"}, "x2": {"field": "b"}, "y": {"field": "lvl", "type": "quantitative", "axis": null}}},
        {"data": {"name": "sig"}, "transform": [{"filter": "datum.panel === 'd'"}, {"fold": ["a", "b"], "as": ["end", "grp"]}], "mark": {"type": "rule", "color": "#444444"},
         "encoding": {"x": {"field": "grp", "type": "nominal"}, "y": {"field": "lvl", "type": "quantitative", "axis": null}, "y2": {"field": "tip"}}},
        {"data": {"values": [{"s": "**", "k": "d1"}]}, "mark": {"type": "text", "dx": -1, "baseline": "alphabetic"},
         "encoding": {"x": {"datum": "F-DM", "type": "nominal"}, "y": {"datum": 0.96, "type": "quantitative", "axis": null}, "text": {"field": "s"}, "color": {"value": "#3a3a3a"}}},
        {"data": {"values": [{"s": "*", "k": "d2"}]}, "mark": {"type": "text", "dx": -1, "baseline": "alphabetic"},
         "encoding": {"x": {"datum": "A-nonDM", "type": "nominal"}, "y": {"datum": 0.814, "type": "quantitative", "axis": null}, "text": {"field": "s"}, "color": {"value": "#3a3a3a"}}},
        {"data": {"values": [{"s": "*", "k": "d3"}]}, "mark": {"type": "text", "dx": 24, "baseline": "alphabetic"},
         "encoding": {"x": {"datum": "A-nonDM", "type": "nominal"}, "y": {"datum": 0.693, "type": "quantitative", "axis": null}, "text": {"field": "s"}, "color": {"value": "#3a3a3a"}}},
        {"data": {"values": [{}]}, "mark": {"type": "rule", "color": "#333333", "xOffset": -32, "x2Offset": 15},
         "encoding": {"x": {"datum": "F-nonDM", "type": "nominal"}, "x2": {"datum": "F-DM"}, "y": {"datum": -0.19, "type": "quantitative", "axis": null}}},
        {"data": {"values": [{}]}, "mark": {"type": "rule", "color": "#333333", "xOffset": -32},
         "encoding": {"x": {"datum": "F-nonDM", "type": "nominal"}, "y": {"datum": -0.19, "type": "quantitative", "axis": null}, "y2": {"datum": -0.14}}},
        {"data": {"values": [{}]}, "mark": {"type": "rule", "color": "#333333", "xOffset": 15},
         "encoding": {"x": {"datum": "F-DM", "type": "nominal"}, "y": {"datum": -0.19, "type": "quantitative", "axis": null}, "y2": {"datum": -0.14}}},
        {"data": {"values": [{}]}, "mark": {"type": "rule", "color": "#333333", "xOffset": -24, "x2Offset": 24},
         "encoding": {"x": {"datum": "A-nonDM", "type": "nominal"}, "x2": {"datum": "A-DM"}, "y": {"datum": -0.19, "type": "quantitative", "axis": null}}},
        {"data": {"values": [{}]}, "mark": {"type": "rule", "color": "#333333", "xOffset": -24},
         "encoding": {"x": {"datum": "A-nonDM", "type": "nominal"}, "y": {"datum": -0.19, "type": "quantitative", "axis": null}, "y2": {"datum": -0.14}}},
        {"data": {"values": [{}]}, "mark": {"type": "rule", "color": "#333333", "xOffset": 24},
         "encoding": {"x": {"datum": "A-DM", "type": "nominal"}, "y": {"datum": -0.19, "type": "quantitative", "axis": null}, "y2": {"datum": -0.14}}},
        {"data": {"values": [{}]}, "mark": {"type": "text", "text": "Fundus", "dx": 14, "baseline": "middle"},
         "encoding": {"x": {"datum": "F-nonDM", "type": "nominal"}, "y": {"datum": -0.257, "type": "quantitative", "axis": null}}},
        {"data": {"values": [{}]}, "mark": {"type": "text", "text": "Antrum", "dx": 24, "baseline": "middle"},
         "encoding": {"x": {"datum": "A-nonDM", "type": "nominal"}, "y": {"datum": -0.257, "type": "quantitative", "axis": null}}},
        {"data": {"values": [{}]}, "mark": {"type": "text", "text": "(d)", "dx": 1, "baseline": "middle"},
         "encoding": {"x": {"datum": "F-DM", "type": "nominal"}, "y": {"datum": -0.375, "type": "quantitative", "axis": null}}}
      ]
    }
  ]
}
